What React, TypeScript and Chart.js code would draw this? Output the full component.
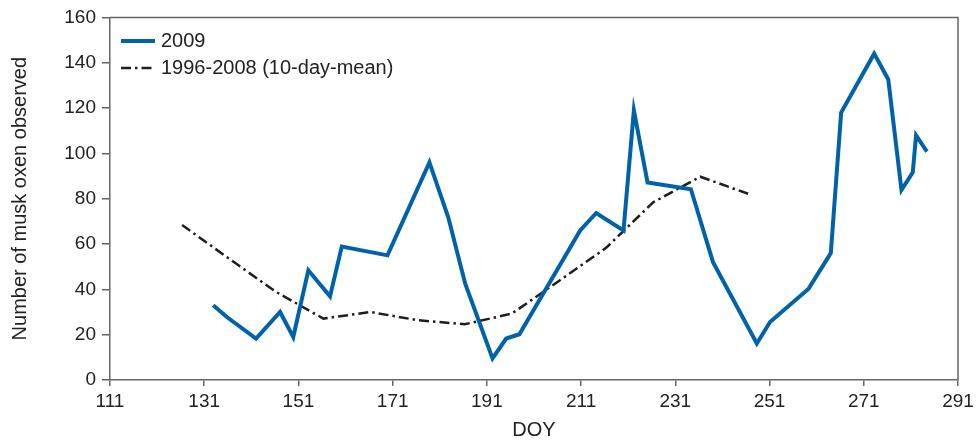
import React, { useEffect, useRef } from "react";
import { Chart, registerables } from "chart.js";

Chart.register(...registerables);

const doy2009 = [132.9, 135.8, 142, 147.1, 149.9, 153.1, 157.7, 160.2, 169.9, 178.8, 182.8, 186.4, 192.2, 195.1, 197.9, 210.8, 214.2, 220, 222.2, 225.1, 234.3, 239, 248.3, 251.1, 259.3, 264, 266.2, 273.2, 276.2, 279, 281.4, 282.1, 284.4];
const count2009 = [33, 27.8, 18.3, 30, 19, 48.4, 36.9, 58.9, 55, 96, 71.8, 42.5, 9.5, 18.3, 20.2, 66, 73.7, 66, 119, 87.2, 84.2, 52, 16.1, 25.6, 40.3, 56, 118, 144, 132.6, 83.8, 91.6, 108, 100.8];

const doyMean = [126.3, 136.3, 146.3, 156.3, 166.3, 176.3, 186.3, 196.3, 206.3, 216.3, 226.3, 236.3, 246.7];
const countMean = [68.4, 53.5, 38.8, 27.1, 30.0, 26.4, 24.6, 29.3, 43.7, 58.3, 78.4, 89.7, 82];

const xTicks = [111, 131, 151, 171, 191, 211, 231, 251, 271, 291];
const yTicks = [0, 20, 40, 60, 80, 100, 120, 140, 160];

const seriesLabels = ["2009", "1996-2008 (10-day-mean)"];
const xTitle = "DOY";
const yTitle = "Number of musk oxen observed";

const FONT = "'Liberation Sans', Arial, Helvetica, sans-serif";
const BLUE = "#0062a8";
const DARK = "#1e1e1e";
const AXIS = "#666666";

const framePlugin = {
  id: "frame",
  afterDraw(chart: any) {
    const { ctx, chartArea } = chart;
    ctx.save();
    ctx.strokeStyle = AXIS;
    ctx.lineWidth = 1.5;
    ctx.beginPath();
    ctx.moveTo(chartArea.left, chartArea.top);
    ctx.lineTo(chartArea.right, chartArea.top);
    ctx.lineTo(chartArea.right, chartArea.bottom);
    ctx.stroke();
    ctx.restore();
  },
};

const legendPlugin = {
  id: "insideLegend",
  afterDraw(chart: any) {
    const { ctx, chartArea } = chart;
    const x0 = chartArea.left + 11;
    const lineLen = 34;
    ctx.save();
    chart.data.datasets.forEach((ds: any, i: number) => {
      const y = chartArea.top + 23.5 + i * 27;
      ctx.beginPath();
      ctx.strokeStyle = ds.borderColor;
      ctx.lineWidth = ds.borderWidth;
      ctx.setLineDash(ds.borderDash || []);
      ctx.lineCap = "butt";
      ctx.moveTo(x0, y);
      ctx.lineTo(x0 + lineLen, y);
      ctx.stroke();
      ctx.setLineDash([]);
      ctx.fillStyle = "#222";
      ctx.font = `20px ${FONT}`;
      ctx.textBaseline = "middle";
      ctx.textAlign = "left";
      ctx.fillText(ds.label, x0 + lineLen + 6, y + 1);
    });
    ctx.restore();
  },
};

export default function App() {
  const ref = useRef<HTMLCanvasElement | null>(null);

  useEffect(() => {
    document.body.style.margin = "0";
    const canvas = ref.current;
    if (!canvas) return;
    const chart = new Chart(canvas, {
      type: "line",
      data: {
        datasets: [
          {
            label: seriesLabels[0],
            data: doy2009.map((x, i) => ({ x, y: count2009[i] })),
            borderColor: BLUE,
            backgroundColor: BLUE,
            borderWidth: 4,
            pointRadius: 0,
            tension: 0,
            borderJoinStyle: "miter",
          },
          {
            label: seriesLabels[1],
            data: doyMean.map((x, i) => ({ x, y: countMean[i] })),
            borderColor: DARK,
            backgroundColor: DARK,
            borderWidth: 2.5,
            borderDash: [10, 4, 2.5, 4],
            pointRadius: 0,
            tension: 0,
          },
        ],
      },
      options: {
        responsive: false,
        animation: false,
        events: [],
        layout: { padding: { top: 16, right: 22, left: 0, bottom: 0 } },
        plugins: {
          legend: { display: false },
          tooltip: { enabled: false },
          title: { display: false },
        },
        scales: {
          x: {
            type: "linear",
            min: 111,
            max: 291,
            afterBuildTicks: (scale: any) => {
              scale.ticks = xTicks.map((v) => ({ value: v }));
            },
            afterFit: (scale: any) => {
              scale.height = 62;
            },
            grid: {
              display: true,
              drawOnChartArea: false,
              drawTicks: true,
              tickLength: 6,
              color: AXIS,
              lineWidth: 1.5,
            },
            border: { display: true, color: AXIS, width: 1.5 },
            ticks: {
              autoSkip: false,
              maxRotation: 0,
              padding: 4,
              color: "#222",
              font: { family: FONT, size: 19 },
              callback: (v: any) => String(v),
            },
            title: {
              display: true,
              text: xTitle,
              color: "#222",
              font: { family: FONT, size: 20 },
              padding: { top: 0, bottom: 0 },
            },
          },
          y: {
            type: "linear",
            min: 0,
            max: 160,
            afterBuildTicks: (scale: any) => {
              scale.ticks = yTicks.map((v) => ({ value: v }));
            },
            afterFit: (scale: any) => {
              scale.width = 110;
            },
            grid: {
              display: true,
              drawOnChartArea: false,
              drawTicks: true,
              tickLength: 8,
              color: AXIS,
              lineWidth: 1.5,
            },
            border: { display: true, color: AXIS, width: 1.5 },
            ticks: {
              padding: 6,
              color: "#222",
              font: { family: FONT, size: 19 },
              callback: (v: any) => String(v),
            },
            title: {
              display: true,
              text: yTitle,
              color: "#222",
              font: { family: FONT, size: 20 },
              padding: { top: 8, bottom: 0 },
            },
          },
        },
      },
      plugins: [framePlugin, legendPlugin],
    } as any);
    return () => chart.destroy();
  }, []);

  return (
    <div style={{ width: 980, height: 442, background: "#fff" }}>
      <canvas ref={ref} width={980} height={442} style={{ display: "block" }} />
    </div>
  );
}
